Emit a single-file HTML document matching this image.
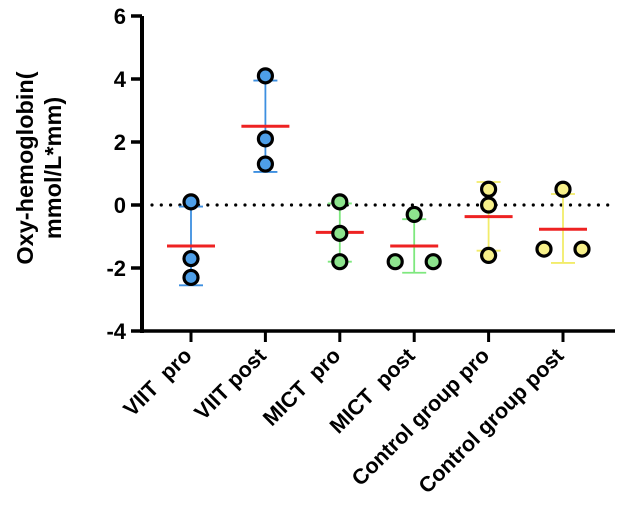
<!DOCTYPE html>
<html><head><meta charset="utf-8"><style>
html,body{margin:0;padding:0;background:#fff;}
svg{display:block;font-family:"Liberation Sans",Arial,sans-serif;font-weight:bold;}
</style></head><body>
<svg id="chart" width="624" height="523" viewBox="0 0 624 523"></svg>
<script>
const categories=["VIIT\u00a0\u00a0pro","VIIT post","MICT\u00a0\u00a0pro","MICT\u00a0\u00a0post","Control group pro","Control group post"];
const points=[[0.1,-1.7,-2.3],[4.1,2.1,1.3],[0.1,-0.9,-1.8],[-0.3,-1.8,-1.8],[0.5,0.0,-1.6],[0.5,-1.4,-1.4]];
const pointOffsets=[[0,0,0],[0,0,0],[0,0,0],[0,-1,1],[0,0,0],[0,-1,1]];
const means=[-1.3,2.5,-0.87,-1.3,-0.37,-0.77];
const errTop=[-0.05,3.95,0.05,-0.45,0.73,0.35];
const errBottom=[-2.55,1.05,-1.8,-2.15,-1.45,-1.84];
const colors=["#4e9fe8","#4e9fe8","#8de38d","#8de38d","#f7f08a","#f7f08a"];
const barColors=["#3d8fe0","#3d8fe0","#7ee87e","#7ee87e","#f2ec6a","#f2ec6a"];
const yTicks=[6,4,2,0,-2,-4];
const NS="http://www.w3.org/2000/svg";
const svg=document.getElementById('chart');
const y=v=>205-v*31.5;
const x=i=>191+i*74.4;
function el(t,a,p){const e=document.createElementNS(NS,t);for(const k in a)e.setAttribute(k,a[k]);(p||svg).appendChild(e);return e;}
let ya=el('line',{x1:142,y1:y(6),x2:142,y2:y(-4)+2,stroke:'#000','stroke-width':4});


let xa=el('line',{x1:140,y1:y(-4),x2:615,y2:y(-4),stroke:'#000','stroke-width':3.5});


yTicks.forEach(t=>{
  let tk=el('line',{x1:131,y1:y(t),x2:142,y2:y(t),stroke:'#000','stroke-width':3.5});
  
  
  let lb=el('text',{x:126,y:y(t)+8,'text-anchor':'end','font-size':22});
  lb.textContent=t;
  
  
});
let zl=el('line',{x1:152,y1:y(0),x2:612,y2:y(0),stroke:'#000','stroke-width':3.2,'stroke-dasharray':'0 9.3','stroke-linecap':'round'});


let yt=el('text',{transform:'translate(33,168) rotate(-90)','text-anchor':'middle','font-size':23.5});
yt.textContent='Oxy-hemoglobin(';


let yt2=el('text',{transform:'translate(61,168) rotate(-90)','text-anchor':'middle','font-size':23.5});
yt2.textContent='mmol/L*mm)';


categories.forEach((c,i)=>{
  const cx=x(i);
  let xt=el('line',{x1:cx,y1:y(-4),x2:cx,y2:y(-4)+11,stroke:'#000','stroke-width':3});
  
  
  let lb=el('text',{transform:`translate(${cx+2},${y(-4)+26}) rotate(-45)`,'text-anchor':'end','font-size':21.5});
  lb.textContent=c;
  
  
  const g=el('g',{});
  
  
  let eb=el('path',{d:`M${cx},${y(errTop[i])}V${y(errBottom[i])}M${cx-12},${y(errTop[i])}H${cx+12}M${cx-12},${y(errBottom[i])}H${cx+12}`,stroke:barColors[i],'stroke-width':1.8,fill:'none'},g);
  
  
  let ml=el('line',{x1:cx-24,y1:y(means[i]),x2:cx+24,y2:y(means[i]),stroke:'#ee2222','stroke-width':3},g);
  
  
  points[i].forEach((v,j)=>{
    let p=el('circle',{cx:cx+pointOffsets[i][j]*19,cy:y(v),r:7,fill:colors[i],stroke:'#000','stroke-width':3.2},g);
    
    
  });
});
</script>
</body></html>
